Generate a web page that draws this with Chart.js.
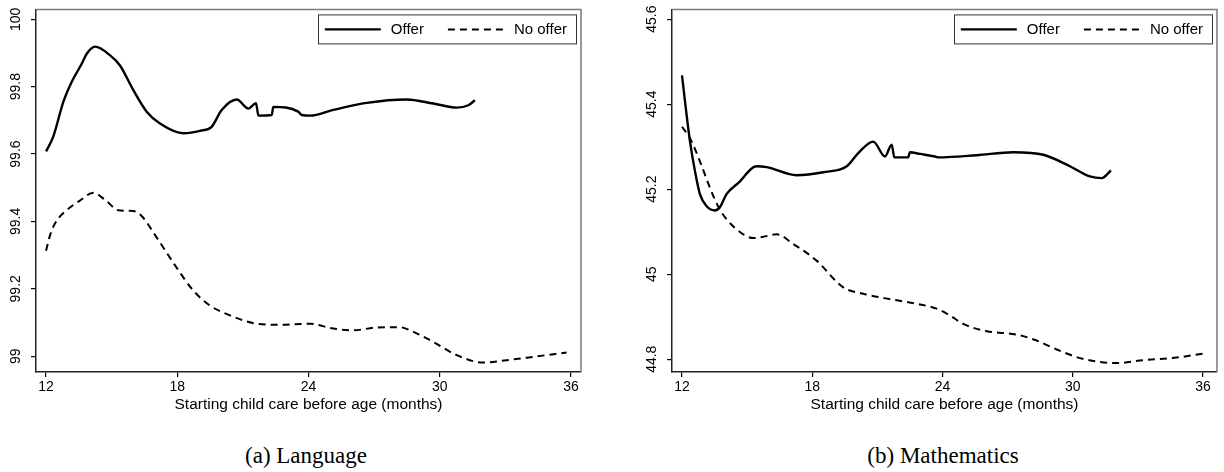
<!DOCTYPE html>
<html><head><meta charset="utf-8">
<script src="https://cdn.jsdelivr.net/npm/chart.js@4.4.1/dist/chart.umd.min.js"></script>
<style>
html,body{margin:0;padding:0;background:#fff;width:1224px;height:472px;overflow:hidden;}
.panel{position:absolute;top:0;width:612px;height:420px;}
#pa{left:0px} #pb{left:612px}
.cap{position:absolute;top:444px;line-height:23px;font-family:"Liberation Serif","DejaVu Serif",serif;font-size:23px;color:#000;white-space:nowrap;transform:translateX(-50%);}
</style></head><body>
<div class="panel" id="pa"><canvas id="ca" width="612" height="420"></canvas></div>
<div class="panel" id="pb"><canvas id="cb" width="612" height="420"></canvas></div>
<div class="cap" id="capA" style="left:306px"></div>
<div class="cap" id="capB" style="left:943px"></div>
<script>
// ---- data ----
const xTicks = [12, 18, 24, 30, 36];
const langTicks = [99, 99.2, 99.4, 99.6, 99.8, 100];
const mathTicks = [44.8, 45, 45.2, 45.4, 45.6];
const seriesLabels = ['Offer', 'No offer'];
const captions = ['(a) Language', '(b) Mathematics'];
const xTitle = 'Starting child care before age (months)';

const langOfferX = [12, 12.33, 12.79, 13.17, 13.63, 13.86, 14.24, 14.93, 15.38, 15.99, 16.6, 17.21, 18.28, 19.04, 19.57, 20.03, 20.72, 21.25, 21.6, 21.71, 22.32, 22.39, 23.53, 23.69, 24.07, 25.13, 26.66, 28.49, 29.71, 30.78, 31.31, 31.61];
const langOfferY = [99.608, 99.652, 99.755, 99.814, 99.868, 99.898, 99.919, 99.893, 99.863, 99.790, 99.726, 99.691, 99.662, 99.669, 99.681, 99.731, 99.762, 99.735, 99.751, 99.714, 99.716, 99.740, 99.726, 99.716, 99.714, 99.731, 99.752, 99.762, 99.750, 99.738, 99.745, 99.760];
const langNoX = [12, 12.15, 12.33, 12.6, 12.95, 13.55, 14.16, 14.77, 15.31, 15.99, 16.37, 17.06, 17.97, 18.73, 19.5, 20.41, 21.48, 22.55, 24.07, 25.13, 26.05, 27.12, 28.18, 28.64, 29.71, 30.78, 31.99, 33.06, 34.28, 35.8];
const langNoY = [99.313, 99.352, 99.384, 99.412, 99.434, 99.462, 99.485, 99.460, 99.433, 99.431, 99.416, 99.352, 99.263, 99.195, 99.150, 99.121, 99.098, 99.093, 99.096, 99.082, 99.077, 99.085, 99.086, 99.077, 99.042, 99.003, 98.981, 98.988, 98.998, 99.011];

const mathOfferX = [12, 12.14, 12.37, 12.6, 12.83, 13.14, 13.52, 13.75, 14.06, 14.6, 15.44, 15.9, 17.28, 18.51, 19.59, 20.12, 20.81, 21.35, 21.66, 21.78, 22.42, 22.5, 22.96, 23.65, 23.8, 25.57, 27.26, 28.65, 29.87, 30.79, 31.33, 31.76];
const mathOfferY = [45.468, 45.406, 45.312, 45.242, 45.188, 45.160, 45.150, 45.158, 45.189, 45.215, 45.254, 45.252, 45.233, 45.240, 45.254, 45.285, 45.312, 45.277, 45.305, 45.275, 45.275, 45.287, 45.283, 45.277, 45.275, 45.280, 45.287, 45.281, 45.254, 45.230, 45.226, 45.244];
const mathNoX = [12, 12.37, 12.83, 13.29, 13.7, 14.06, 14.82, 15.28, 15.74, 16.36, 17.13, 18.2, 19.43, 20.35, 21.73, 22.96, 23.73, 24.35, 24.96, 26.04, 27.42, 28.34, 29.26, 30.18, 30.95, 32.03, 33.25, 34.79, 35.98];
const mathNoY = [45.347, 45.320, 45.265, 45.203, 45.156, 45.129, 45.094, 45.085, 45.088, 45.094, 45.071, 45.032, 44.969, 44.954, 44.940, 44.929, 44.919, 44.903, 44.883, 44.866, 44.858, 44.844, 44.823, 44.805, 44.796, 44.791, 44.798, 44.804, 44.813];

// ---- helpers ----
const pts = (xs, ys) => xs.map((x, i) => ({x: x, y: ys[i]}));
const SANS = '"Liberation Sans", Arial, Helvetica, sans-serif';

const framePlugin = {
  id: 'frame',
  beforeDatasetsDraw(chart) {
    const {ctx, chartArea: a} = chart;
    ctx.save();
    ctx.strokeStyle = '#7a7a7a';
    ctx.lineWidth = 1.5;
    ctx.beginPath();
    ctx.moveTo(a.left, a.top);
    ctx.lineTo(a.right, a.top);
    ctx.lineTo(a.right, a.bottom);
    ctx.stroke();
    ctx.restore();
  }
};

const insideLegend = {
  id: 'insideLegend',
  afterDatasetsDraw(chart) {
    const {ctx, chartArea: a} = chart;
    const ds = chart.data.datasets;
    ctx.save();
    ctx.font = '15px ' + SANS;
    const sample = 56, gapS = 10, gapB = 24, padL = 7, padR = 9, h = 29;
    let w = padL;
    ds.forEach((d, i) => { w += sample + gapS + ctx.measureText(d.label).width + (i < ds.length - 1 ? gapB : padR); });
    const right = a.right - 5, top = a.top + 5, left = right - w;
    ctx.fillStyle = '#fff';
    ctx.fillRect(left, top, w, h);
    ctx.strokeStyle = '#333';
    ctx.lineWidth = 1;
    ctx.strokeRect(Math.round(left) + 0.5, top + 0.5, Math.round(w), h);
    let x = left + padL;
    const cy = top + h / 2 + 0.5;
    ds.forEach((d) => {
      ctx.beginPath();
      ctx.setLineDash(d.borderDash || []);
      ctx.lineWidth = d.borderWidth;
      ctx.strokeStyle = d.borderColor;
      ctx.moveTo(x, cy); ctx.lineTo(x + sample, cy); ctx.stroke();
      ctx.setLineDash([]);
      x += sample + gapS;
      ctx.fillStyle = '#000';
      ctx.textBaseline = 'middle';
      ctx.textAlign = 'left';
      ctx.fillText(d.label, x, cy);
      x += ctx.measureText(d.label).width + gapB;
    });
    ctx.restore();
  }
};

function makeChart(id, o) {
  return new Chart(document.getElementById(id), {
    type: 'scatter',
    data: {
      datasets: [
        {label: seriesLabels[0], data: pts(o.ox, o.oy), showLine: true, borderColor: '#000', borderWidth: 2.4,
         pointRadius: 0, cubicInterpolationMode: 'monotone', fill: false},
        {label: seriesLabels[1], data: pts(o.nx, o.ny), showLine: true, borderColor: '#000', borderWidth: 2,
         borderDash: [7, 5], pointRadius: 0, cubicInterpolationMode: 'monotone', fill: false}
      ]
    },
    options: {
      responsive: false, animation: false, devicePixelRatio: 1,
      layout: {padding: {left: 0, top: 7, right: o.padRight, bottom: 6}},
      plugins: {legend: {display: false}, tooltip: {enabled: false}},
      scales: {
        x: {
          type: 'linear', min: o.xmin, max: o.xmax,
          afterBuildTicks: (s) => { s.ticks = xTicks.map(v => ({value: v})); },
          afterFit: (s) => { s.height = 42; },
          grid: {drawOnChartArea: false, drawTicks: true, tickLength: 5, color: '#000', lineWidth: 1.2},
          border: {display: true, color: '#222', width: 1.5},
          ticks: {font: {family: SANS, size: 14}, color: '#000', padding: 2, maxRotation: 0, autoSkip: false,
                  callback: (v) => String(v)},
          title: {display: true, text: xTitle, font: {family: SANS, size: 15.5}, color: '#000', padding: {top: 0, bottom: 0}}
        },
        y: {
          type: 'linear', min: o.ymin, max: o.ymax,
          afterBuildTicks: (s) => { s.ticks = o.yt.map(v => ({value: v})); },
          afterFit: (s) => { s.width = o.yw; },
          grid: {drawOnChartArea: false, drawTicks: true, tickLength: 5, color: '#000', lineWidth: 1.2},
          border: {display: true, color: '#222', width: 1.5},
          ticks: {font: {family: SANS, size: 14}, color: '#000', padding: 1, minRotation: 90, maxRotation: 90,
                  crossAlign: 'center', autoSkip: false,
                  callback: (v) => String(Number(v.toFixed(2)))}
        }
      }
    },
    plugins: [framePlugin, insideLegend]
  });
}

makeChart('ca', {ox: langOfferX, oy: langOfferY, nx: langNoX, ny: langNoY,
  xmin: 11.54, xmax: 36.46, ymin: 98.953, ymax: 100.0295, yt: langTicks, yw: 36, padRight: 31});
makeChart('cb', {ox: mathOfferX, oy: mathOfferY, nx: mathNoX, ny: mathNoY,
  xmin: 11.54, xmax: 36.645, ymin: 44.770, ymax: 45.623, yt: mathTicks, yw: 60, padRight: 7});

document.getElementById('capA').textContent = captions[0];
document.getElementById('capB').textContent = captions[1];
</script>
</body></html>
